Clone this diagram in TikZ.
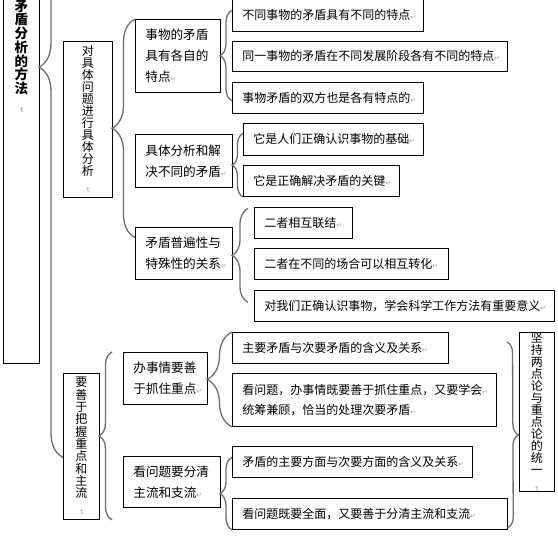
\documentclass[tikz,border=0pt]{standalone}
\usepackage{fontspec}
\usepackage{graphicx}
\usetikzlibrary{decorations.pathreplacing}
\newfontfamily\cjk{Noto Sans CJK SC}
\newfontfamily\symf{DejaVu Sans}
\definecolor{ink}{HTML}{000000}
\definecolor{brc}{HTML}{6E6E6E}
\definecolor{pmk}{HTML}{9A9A9A}
\newcommand\retmark{{\color{pmk}\symf\fontsize{6.5}{6.5}\selectfont ↵}}
\newcommand\vretmark{\rotatebox{-90}{\retmark}}

\begin{document}
\begin{tikzpicture}[
  x=1pt,y=-1pt,
  box/.style={draw=ink,line width=0.8pt,anchor=north west,inner xsep=10pt,inner ysep=0pt,align=left,text=ink,font=\cjk\fontsize{12}{20}\selectfont},
  lbox/.style={box,font=\cjk\fontsize{12.6}{21}\selectfont},
  vbox/.style={draw=ink,line width=0.8pt,anchor=north west,inner sep=0pt,align=center,text=ink},
  vtxt/.style={font=\cjk\fontsize{12}{#1}\selectfont},
  brace/.style={decorate,decoration={brace,amplitude=#1},draw=brc,line width=1.3pt},
]
  \fill[white] (0,0) rectangle (558,556);
  \useasboundingbox (0,0) rectangle (558,556);

  \node[vbox,minimum width=36,minimum height=614,font=\cjk\bfseries\fontsize{13.5}{13.7}\selectfont] (t) at (3,-251)
    {矛\\盾\\分\\析\\的\\方\\法\\{\vretmark}};
  \node[vbox,vtxt=12,minimum width=49,minimum height=156] (c) at (63,41)
    {对\\具\\体\\问\\题\\进\\行\\具\\体\\分\\析\\{\vretmark}};
  \node[vbox,vtxt=12.3,minimum width=36,minimum height=146] (z) at (63,373)
    {要\\善\\于\\把\\握\\重\\点\\和\\主\\流\\{\vretmark}};
  \node[vbox,vtxt=12,minimum width=35,minimum height=156] (u) at (519,332)
    {坚\\持\\两\\点\\论\\与\\重\\点\\论\\的\\统\\一\\{\vretmark}};

  \node[lbox,text width=65,minimum height=73] (c1) at (135,19) {事物的矛盾\\具有各自的\\特点\retmark};
  \node[lbox,text width=77,minimum height=53] (c2) at (135,134) {具体分析和解\\决不同的矛盾\retmark};
  \node[lbox,text width=77,minimum height=52] (c3) at (135,227) {矛盾普遍性与\\特殊性的关系\retmark};
  \node[lbox,text width=64,minimum height=52] (z1) at (123,352) {办事情要善\\于抓住重点\retmark};
  \node[lbox,text width=77,minimum height=51] (z2) at (123,456) {看问题要分清\\主流和支流\retmark};

  \node[box,text width=171,minimum height=32] (c1a) at (232,-1) {不同事物的矛盾具有不同的特点\retmark};
  \node[box,text width=255,minimum height=30] (c1b) at (232,41) {同一事物的矛盾在不同发展阶段各有不同的特点\retmark};
  \node[box,text width=171,minimum height=31] (c1c) at (232,82) {事物矛盾的双方也是各有特点的\retmark};
  \node[box,text width=160,minimum height=32] (c2a) at (243,123) {它是人们正确认识事物的基础\retmark};
  \node[box,text width=136,minimum height=31] (c2b) at (243,165) {它是正确解决矛盾的关键\retmark};
  \node[box,text width=78,minimum height=31] (c3a) at (254,207) {二者相互联结\retmark};
  \node[box,text width=174,minimum height=31] (c3b) at (254,248) {二者在不同的场合可以相互转化\retmark};
  \node[box,text width=280,minimum height=31] (c3c) at (254,290) {对我们正确认识事物，学会科学工作方法有重要意义\retmark};
  \node[box,text width=196,minimum height=31] (z1a) at (232,332) {主要矛盾与次要矛盾的含义及关系\retmark};
  \node[box,text width=244,minimum height=53] (z1b) at (232,373) {看问题，办事情既要善于抓住重点，又要学会\retmark\\统筹兼顾，恰当的处理次要矛盾\retmark};
  \node[box,text width=220,minimum height=31] (z2a) at (232,446) {矛盾的主要方面与次要方面的含义及关系\retmark};
  \node[box,text width=255,minimum height=31] (z2b) at (232,498) {看问题既要全面，又要善于分清主流和支流\retmark};

  \coordinate (ttop) at (63,-323);
  \coordinate (utop) at (507,342);

  \draw[brace=24] ([yshift=-11pt]z.west) -- (ttop);
  \draw[brace=23] ([yshift=16pt]c3.west) -- (c1.north west);
  \draw[brace=12] ([yshift=-3pt]c1c.west) -- ([yshift=5pt]c1a.west);
  \draw[brace=11] (c2b.south west) -- ([yshift=6pt]c2a.west);
  \draw[brace=16] ([xshift=-6pt,yshift=3.5pt]c3c.west) -- ([xshift=-6pt,yshift=14.5pt]c3a.west);
  \draw[brace=13] ([xshift=-11pt,yshift=-12pt]z2.south west) -- ([xshift=-11pt]z1.north west);
  \draw[brace=25] (z1b.south west) -- (z1a.north west);
  \draw[brace=12] (z2b.south west) -- ([yshift=4.5pt]z2a.west);
  \draw[brace=11] (utop) -- ([yshift=2pt]z2b.south east);
\end{tikzpicture}
\end{document}
